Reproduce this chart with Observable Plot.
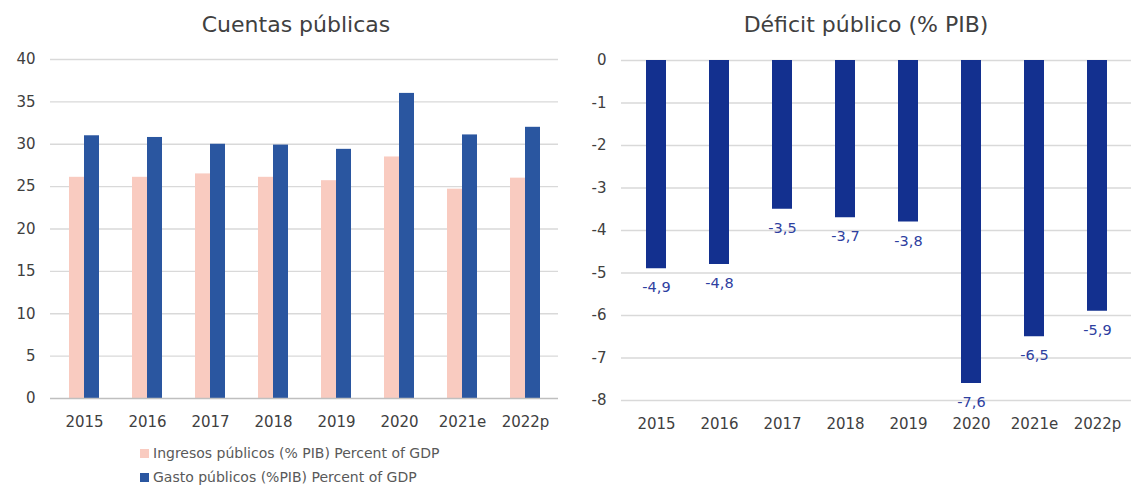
<!DOCTYPE html>
<html>
<head>
<meta charset="utf-8">
<script src="https://cdn.jsdelivr.net/npm/d3@7"></script>
<script src="https://cdn.jsdelivr.net/npm/@observablehq/plot@0.6"></script>
<style>
  html, body { margin: 0; padding: 0; background: #fff; }
  body { width: 1134px; height: 487px; overflow: hidden; font-family: "DejaVu Sans", sans-serif; }
  #wrap { display: flex; flex-direction: row; }
  .panel { width: 567px; position: relative; }
  .title { height: 45px; line-height: 50px; font-size: 22px; color: #404040; text-align: center; box-sizing: border-box; }
  .legend { font-size: 14px; color: #595959; margin-left: 140px; margin-top: 8px; }
  .legend div { height: 24px; line-height: 24px; display: flex; align-items: center; }
  .sw { width: 9px; height: 9px; display: inline-block; margin-right: 4px; }
</style>
</head>
<body>
<div id="wrap">
  <div class="panel" id="left">
    <div class="title" style="padding-left:25px">Cuentas públicas</div>
  </div>
  <div class="panel" id="right">
    <div class="title" style="padding-left:31px">Déficit público (% PIB)</div>
  </div>
</div>
<script>
const years = ["2015", "2016", "2017", "2018", "2019", "2020", "2021e", "2022p"];
const ingresos = [26.1, 26.1, 26.5, 26.1, 25.7, 28.5, 24.7, 26.0];
const gasto = [31.0, 30.8, 30.0, 29.9, 29.4, 36.0, 31.1, 32.0];
const deficit = [-4.9, -4.8, -3.5, -3.7, -3.8, -7.6, -6.5, -5.9];
const seriesNames = ["Ingresos públicos (% PIB) Percent of GDP", "Gasto públicos (%PIB) Percent of GDP"];
const leftTicks = [0, 5, 10, 15, 20, 25, 30, 35, 40];
const rightTicks = [0, -1, -2, -3, -4, -5, -6, -7, -8];

const pink = "#F9CBC0", blue = "#2A56A0", navy = "#13308F", labelBlue = "#2E40A0";
const textColor = "#404040", gridColor = "#D9D9D9";

const dIng = years.map((y, i) => ({year: y, value: ingresos[i]}));
const dGas = years.map((y, i) => ({year: y, value: gasto[i]}));
const dDef = years.map((y, i) => ({year: y, value: deficit[i]}));

const left = Plot.plot({
  width: 567, height: 388,
  marginLeft: 50, marginRight: 9, marginTop: 14, marginBottom: 35,
  style: {fontFamily: "DejaVu Sans, sans-serif", fontSize: "15px", color: textColor, background: "white"},
  x: {domain: years, paddingInner: 0.528, paddingOuter: 0.264, label: null, tickSize: 0, tickPadding: 18},
  y: {domain: [0, 40], ticks: leftTicks, label: null, tickSize: 0, tickPadding: 15},
  marks: [
    Plot.ruleY(leftTicks.filter(d => d !== 0), {stroke: gridColor, strokeWidth: 1.3}),
    Plot.barY(dIng, {x: "year", y: "value", fill: pink, insetRight: 15}),
    Plot.barY(dGas, {x: "year", y: "value", fill: blue, insetLeft: 15}),
    Plot.ruleY([0], {stroke: "#BFBFBF", strokeWidth: 1.5})
  ]
});
document.getElementById("left").appendChild(left);

const legend = document.createElement("div");
legend.className = "legend";
legend.innerHTML = `<div><span class="sw" style="background:${pink}"></span>${seriesNames[0]}</div>` +
                   `<div><span class="sw" style="background:${blue}"></span>${seriesNames[1]}</div>`;
document.getElementById("left").appendChild(legend);

const right = Plot.plot({
  width: 567, height: 390,
  marginLeft: 54, marginRight: 3, marginTop: 15, marginBottom: 35,
  style: {fontFamily: "DejaVu Sans, sans-serif", fontSize: "15px", color: textColor, background: "white"},
  x: {domain: years, paddingInner: 0.686, paddingOuter: 0.343, label: null, tickSize: 0, tickPadding: 18},
  y: {domain: [-8, 0], ticks: rightTicks, label: null, tickSize: 0, tickPadding: 15, tickFormat: d => String(d)},
  marks: [
    Plot.ruleY(rightTicks, {stroke: gridColor, strokeWidth: 1.3}),
    Plot.barY(dDef, {x: "year", y: "value", fill: navy}),
    Plot.text(dDef, {x: "year", y: "value", text: d => String(d.value).replace(".", ","), dy: 19, fill: labelBlue, fontSize: 14.5})
  ]
});
document.getElementById("right").appendChild(right);
</script>
</body>
</html>
